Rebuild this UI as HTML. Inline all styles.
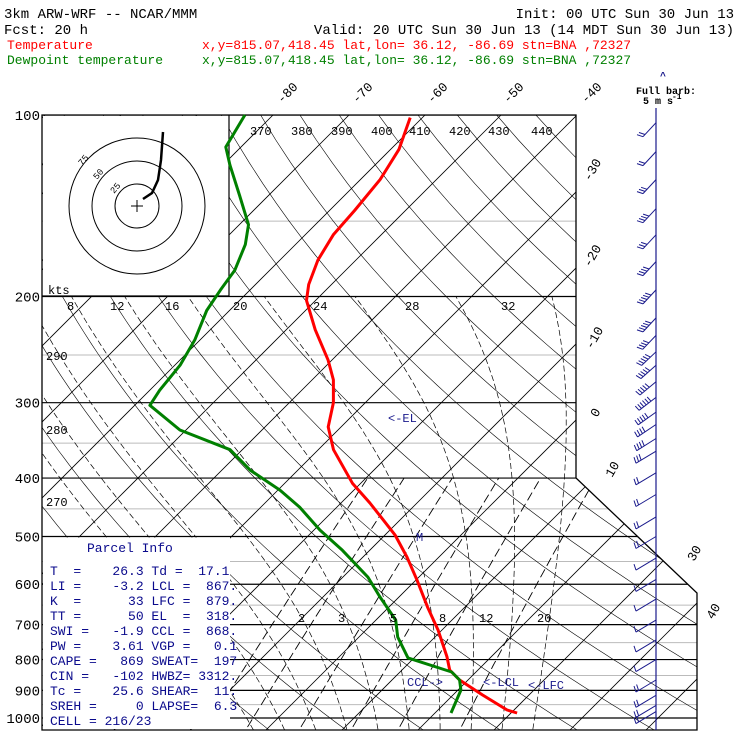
<!DOCTYPE html>
<html><head><meta charset="utf-8"><style>
html,body{margin:0;padding:0;background:#fff;}
svg{display:block;}
text{font-family:"Liberation Mono","DejaVu Sans Mono",monospace;}
</style></head><body>
<svg id="chart" width="740" height="740" viewBox="0 0 740 740" xmlns="http://www.w3.org/2000/svg">
<defs><clipPath id="plotclip"><polygon points="42,115 576,115 576,478 697,593 697,730 42,730"/></clipPath></defs>
<g font-size="14">
<text x="4" y="18">3km ARW-WRF -- NCAR/MMM</text>
<text x="734" y="18" text-anchor="end">Init: 00 UTC Sun 30 Jun 13</text>
<text x="4" y="34">Fcst:   20 h</text>
<text x="734" y="34" text-anchor="end">Valid: 20 UTC Sun 30 Jun 13 (14 MDT Sun 30 Jun 13)</text>
<text x="7" y="49" fill="#ff0000" font-size="13">Temperature</text>
<text x="202" y="49" fill="#ff0000" font-size="13">x,y=815.07,418.45  lat,lon= 36.12, -86.69  stn=BNA ,72327</text>
<text x="7" y="64" fill="#008000" font-size="13">Dewpoint temperature</text>
<text x="202" y="64" fill="#008000" font-size="13">x,y=815.07,418.45  lat,lon= 36.12, -86.69  stn=BNA ,72327</text>
</g>
<g id="grid" clip-path="url(#plotclip)"></g>
<g id="over"></g>
<g id="labels"></g>
</svg>
<script>
const pressureLevels=[100,200,300,400,500,600,700,800,900,1000];
const grayLevels=[150,250,350,450,550,650,750,850,950];
const tempP=[101,114,128,144,158,174,191,203,227,255,275,300,329,359,408,440,497,541,590,655,715,792,833,865,916,970,981];
const tempT=[-61.6,-58.9,-57.4,-56.7,-56.3,-55,-53,-51.2,-46.2,-40.5,-37.2,-34.2,-31.7,-28,-21.1,-16.2,-8.7,-4.2,0.1,5.1,9.5,14.2,16.3,18.9,23.9,29.1,30.8];
const dewP=[100,113,121,136,152,164,181,195,211,236,260,286,303,333,359,388,419,447,488,527,584,630,688,734,795,839,865,899,981];
const dewT=[-83.7,-82,-79.1,-73.8,-68.8,-66.6,-64.6,-63.9,-63,-60.7,-59.3,-58.7,-58,-50.8,-41.6,-36.3,-29.7,-24.9,-19.2,-13.6,-6.7,-2.5,2.6,5.1,9.2,16.8,18.9,20.4,22.1];
const windP=[103,115,128,143,158,175,195,217,232,247,260,277,294,311,326,344,361,392,426,464,500,543,589,635,688,742,800,865,917,953,976];
const windSpd=[10,10,15,20,15,20,25,25,20,25,25,25,30,25,20,20,15,10,10,10,10,5,5,5,5,5,5,10,10,10,10];
const isoTemps=[-130,-120,-110,-100,-90,-80,-70,-60,-50,-40,-30,-20,-10,0,10,20,30,40,50];
const thetas=[250,260,270,280,290,300,310,320,330,340,350,360,370,380,390,400,410,420,430,440,450,460,470,480];
const moistStarts=[0,4,8,12,16,20,24,28,32,36];
const mixRatios=[2,3,5,8,12,20];
const NS='http://www.w3.org/2000/svg';
function Y(p){return 115+603*Math.log10(p/100);}
function X(T,p){return 576+(420-Y(p))+7.6*T;}
function mk(tag,attrs,parent){const e=document.createElementNS(NS,tag);for(const k in attrs)e.setAttribute(k,attrs[k]);parent.appendChild(e);return e;}
const grid=document.getElementById('grid'),over=document.getElementById('over'),lab=document.getElementById('labels');
function pts(arrP,arrT){return arrP.map((p,i)=>X(arrT[i],p).toFixed(1)+','+Y(p).toFixed(1)).join(' ');}
grayLevels.forEach(p=>{const l=mk('line',{x1:42,x2:700,y1:Y(p),y2:Y(p),stroke:'#bbb','stroke-width':1},grid);

});
isoTemps.forEach(T=>{const l=mk('line',{x1:X(T,1100),y1:Y(1100),x2:X(T,95),y2:Y(95),stroke:'#000','stroke-width':0.8},grid);

});
thetas.forEach(th=>{const a=[],b=[];for(let p=1080;p>=95;p-=10){a.push(p);b.push(th*Math.pow(p/1000,0.286)-273.15);}
const l=mk('polyline',{points:pts(a,b),fill:'none',stroke:'#000','stroke-width':0.6},grid);

});
function es(t){return 6.112*Math.exp(17.67*t/(t+243.5));}
moistStarts.forEach(t0=>{let T=t0+273.15;const a=[],b=[];for(let p=1080;p>=200;p-=5){a.push(p);b.push(T-273.15);
const e=es(T-273.15),rs=0.622*e/(p-e);const d=(287*T+2.5e6*rs)/(1005+2.5e6*2.5e6*rs*0.622/(287*T*T))/p;T-=d*5;}
const l=mk('polyline',{points:pts(a,b),fill:'none',stroke:'#000','stroke-width':0.7,'stroke-dasharray':'6,3'},grid);

});
mixRatios.forEach(w=>{const a=[],b=[];for(let p=1080;p>=400;p-=10){const e=w*p/(622+w);const L=Math.log(e/6.112);a.push(p);b.push(243.5*L/(17.67-L));}
const l=mk('polyline',{points:pts(a,b),fill:'none',stroke:'#000','stroke-width':0.9,'stroke-dasharray':'9,4'},grid);

});
pressureLevels.forEach(p=>{const l=mk('line',{x1:42,x2:700,y1:Y(p),y2:Y(p),stroke:'#000','stroke-width':1.2},grid);


const t=mk('text',{x:40,y:Y(p)+5,'text-anchor':'end','font-size':14},lab);t.textContent=p;

});
let r=mk('rect',{x:43,y:116,width:186,height:179.5,fill:'#fff'},over);


r=mk('rect',{x:43,y:Y(500)+1,width:187,height:729-Y(500)-1,fill:'#fff'},over);


mk('line',{x1:229,y1:115,x2:229,y2:296,stroke:'#000','stroke-width':1.2},over);
mk('line',{x1:42,y1:296,x2:229,y2:296,stroke:'#000','stroke-width':1.2},over);
r=mk('polygon',{points:'42,115 576,115 576,478 697,593 697,730 42,730',fill:'none',stroke:'#000','stroke-width':1.3},over);


[22,45,68].forEach(rad=>{const c=mk('circle',{cx:137,cy:206,r:rad,fill:'none',stroke:'#000','stroke-width':1},over);

});
mk('path',{d:'M131,206h12M137,200v12',stroke:'#000','stroke-width':1},over);
let h=mk('path',{d:'M163,132 L161,160 L158,180 L152,193 L143,199',fill:'none',stroke:'#000','stroke-width':2.5},over);


let wa=mk('line',{x1:656,y1:108,x2:656,y2:730,stroke:'#1a1a8c','stroke-width':1.2},over);


windP.forEach((p,i)=>{const y=Y(p),s=windSpd[i];const f=Math.min(1,Math.max(0,(y-330)/120));
const dx=-13-7*f,dy=14-2*f;const ex=656+dx,ey=y+dy;let d='M656,'+y.toFixed(1)+' L'+ex.toFixed(1)+','+ey.toFixed(1);
const n=Math.round(s/5);const L=Math.hypot(dx,dy),ux=-dx/L,uy=-dy/L;
for(let k=0;k<n;k++){const bx=ex+ux*k*3,by=ey+uy*k*3;d+=' M'+bx.toFixed(1)+','+by.toFixed(1)+' l'+(-6+4*f).toFixed(1)+','+(-2-4*f).toFixed(1);}
const b=mk('path',{d:d,fill:'none',stroke:'#1a1a8c','stroke-width':1},over);

});
let tl=mk('polyline',{points:pts(tempP,tempT),fill:'none',stroke:'#ff0000','stroke-width':3,'stroke-linejoin':'round'},over);


let dl=mk('polyline',{points:pts(dewP,dewT),fill:'none',stroke:'#008000','stroke-width':3,'stroke-linejoin':'round'},over);


</script>
<svg style="position:absolute;left:0;top:0" width="740" height="740">
<g font-family="Liberation Mono, monospace" font-size="13">
<text transform="translate(282,104) rotate(-45)">-80</text>
<text transform="translate(357,104) rotate(-45)">-70</text>
<text transform="translate(432,104) rotate(-45)">-60</text>
<text transform="translate(508,104) rotate(-45)">-50</text>
<text transform="translate(586,104) rotate(-45)">-40</text>
<text transform="translate(590,182) rotate(-60)">-30</text>
<text transform="translate(590,268) rotate(-60)">-20</text>
<text transform="translate(592,350) rotate(-60)">-10</text>
<text transform="translate(597,418) rotate(-60)">0</text>
<text transform="translate(612,478) rotate(-60)">10</text>
<text transform="translate(694,562) rotate(-60)">30</text>
<text transform="translate(713,620) rotate(-60)">40</text>
<g font-size="12">
<text x="250" y="135">370</text><text x="291" y="135">380</text><text x="331" y="135">390</text><text x="371" y="135">400</text><text x="409" y="135">410</text><text x="449" y="135">420</text><text x="488" y="135">430</text><text x="531" y="135">440</text>
<text x="46" y="360">290</text><text x="46" y="434">280</text><text x="46" y="506">270</text>
</g>
<g font-size="12">
<text x="48" y="294">kts</text>
<text x="67" y="310">8</text><text x="110" y="310">12</text><text x="165" y="310">16</text><text x="233" y="310">20</text><text x="313" y="310">24</text><text x="405" y="310">28</text><text x="501" y="310">32</text>
</g>
<g font-size="12">
<text x="298" y="622">2</text><text x="338" y="622">3</text><text x="390" y="622">5</text><text x="439" y="622">8</text><text x="479" y="622">12</text><text x="537" y="622">20</text>
</g>
<g fill="#1a1a8c" font-size="12">
<text x="388" y="422">&lt;-EL</text><text x="416" y="541">M</text>
<text x="407" y="686">CCL-&gt;</text><text x="483" y="686">&lt;-LCL</text><text x="528" y="689">&lt;-LFC</text>
</g>
<g fill="#0a0a8c" font-size="13">
<text x="87" y="552">Parcel Info</text>
<text x="50" y="575" xml:space="preserve">T  =    26.3 Td =  17.1</text>
<text x="50" y="590" xml:space="preserve">LI =    -3.2 LCL =  867.</text>
<text x="50" y="605" xml:space="preserve">K  =      33 LFC =  879.</text>
<text x="50" y="620" xml:space="preserve">TT =      50 EL  =  318.</text>
<text x="50" y="635" xml:space="preserve">SWI =   -1.9 CCL =  868.</text>
<text x="50" y="650" xml:space="preserve">PW =    3.61 VGP =   0.1</text>
<text x="50" y="665" xml:space="preserve">CAPE =   869 SWEAT=  197</text>
<text x="50" y="680" xml:space="preserve">CIN =   -102 HWBZ= 3312.</text>
<text x="50" y="695" xml:space="preserve">Tc =    25.6 SHEAR=  11.</text>
<text x="50" y="710" xml:space="preserve">SREH =     0 LAPSE=  6.3</text>
<text x="50" y="725" xml:space="preserve">CELL = 216/23</text>
</g>
<g font-family="Liberation Serif, serif" font-weight="bold" font-size="10">
<text x="660" y="79" fill="#1a1a8c" font-size="10">^</text>
<text x="636" y="94">Full barb:</text>
<text x="643" y="104">5 m s</text><text x="672" y="99" font-size="8">-1</text>
</g>
<g font-size="9" font-family="Liberation Sans, sans-serif">
<text transform="translate(82,166) rotate(-50)">75</text>
<text transform="translate(97,180) rotate(-50)">50</text>
<text transform="translate(114,194) rotate(-50)">25</text>
</g>
</g>
</svg>
</body></html>
